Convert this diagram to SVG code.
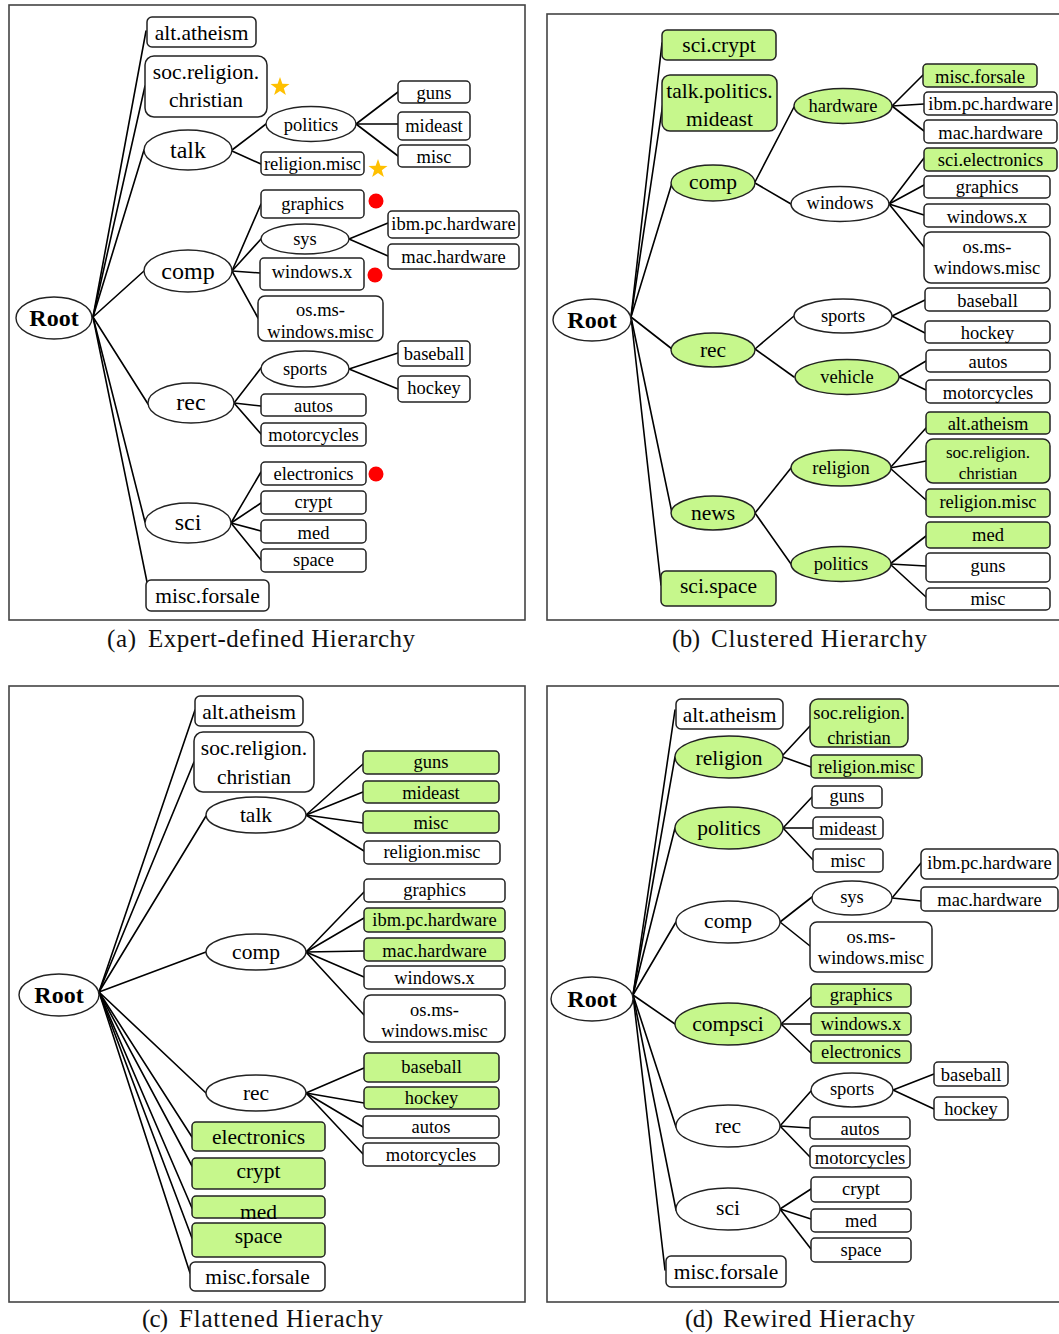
<svg xmlns="http://www.w3.org/2000/svg" width="1059" height="1334" viewBox="0 0 1059 1334">
<style>
  text { font-family: "Liberation Serif", "Times New Roman", serif; fill: #000; text-anchor: middle; }
  .frame { fill: none; stroke: #444; stroke-width: 1.6; }
  .box { fill: #fff; stroke: #222; stroke-width: 1.5; }
  .ell { fill: #fff; stroke: #222; stroke-width: 1.4; }
  .green { fill: #c6f78c; }
  .edges line { stroke: #000; stroke-width: 1.6; stroke-linecap: round; }
  .R { font-size: 24px; font-weight: bold; }
  .E { font-size: 24px; }
  .L { font-size: 21.5px; }
  .S { font-size: 18.5px; }
  .T { font-size: 17px; }
  .cap { font-size: 25px; text-anchor: start; fill: #111; }
  .star { fill: #ffc000; }
  .dot { fill: #f00; }
</style>
<defs>
  <path id="starShape" d="M0,-10 L2.35,-3.24 L9.51,-3.09 L3.8,1.24 L5.88,8.09 L0,4 L-5.88,8.09 L-3.8,1.24 L-9.51,-3.09 L-2.35,-3.24 Z"/>
</defs>
<rect width="1059" height="1334" fill="#fff"/>

<!-- ===================== (a) Expert-defined hierarchy ===================== -->
<g id="panel-a">
  <rect class="frame" x="9" y="5" width="516" height="615"/>
  <g class="edges" id="a-edges">
    <line x1="93" y1="317" x2="146" y2="31"/>
    <line x1="93" y1="317" x2="145" y2="86"/>
    <line x1="93" y1="317" x2="144" y2="150"/>
    <line x1="93" y1="317" x2="144" y2="271"/>
    <line x1="93" y1="317" x2="148" y2="404"/>
    <line x1="93" y1="317" x2="145" y2="522"/>
    <line x1="93" y1="317" x2="147" y2="582"/>
    <line x1="232" y1="150" x2="266" y2="124"/>
    <line x1="232" y1="151" x2="261" y2="164"/>
    <line x1="356" y1="124" x2="398" y2="92"/>
    <line x1="356" y1="124" x2="398" y2="124"/>
    <line x1="356" y1="124" x2="398" y2="156"/>
    <line x1="232" y1="271" x2="261" y2="204"/>
    <line x1="232" y1="271" x2="261" y2="239"/>
    <line x1="232" y1="271" x2="260" y2="273"/>
    <line x1="232" y1="271" x2="258" y2="318"/>
    <line x1="349" y1="239" x2="388" y2="223"/>
    <line x1="349" y1="239" x2="388" y2="256"/>
    <line x1="234" y1="403" x2="261" y2="368"/>
    <line x1="234" y1="403" x2="261" y2="406"/>
    <line x1="234" y1="403" x2="261" y2="434"/>
    <line x1="349" y1="369" x2="398" y2="353"/>
    <line x1="349" y1="369" x2="398" y2="389"/>
    <line x1="231" y1="523" x2="261" y2="472"/>
    <line x1="231" y1="523" x2="261" y2="503"/>
    <line x1="231" y1="523" x2="261" y2="531"/>
    <line x1="231" y1="523" x2="261" y2="560"/>
  </g>
  <g id="a-root"><ellipse class="ell" cx="54" cy="318" rx="38" ry="21"/><text class="R" x="54" y="326">Root</text></g>
  <g id="a-alt-atheism"><rect class="box" x="147" y="17" width="109" height="30" rx="5"/><text class="L" x="201.5" y="40">alt.atheism</text></g>
  <g id="a-soc-religion-christian"><rect class="box" x="145" y="56" width="122" height="61" rx="9"/><text class="L" x="206" y="79">soc.religion.</text><text class="L" x="206" y="107">christian</text><use href="#starShape" class="star" x="280" y="87"/></g>
  <g id="a-talk"><ellipse class="ell" cx="188" cy="150" rx="44" ry="20"/><text class="E" x="188" y="158">talk</text></g>
  <g id="a-politics"><ellipse class="ell" cx="311" cy="124" rx="45" ry="17.5"/><text class="S" x="311" y="131">politics</text></g>
  <g id="a-religion-misc"><rect class="box" x="261" y="152" width="103" height="23" rx="4"/><text class="S" x="312.5" y="170">religion.misc</text><use href="#starShape" class="star" x="378" y="169"/></g>
  <g id="a-guns"><rect class="box" x="398" y="81" width="72" height="22" rx="4"/><text class="S" x="434" y="99">guns</text></g>
  <g id="a-mideast"><rect class="box" x="398" y="112" width="72" height="28" rx="4"/><text class="S" x="434" y="132">mideast</text></g>
  <g id="a-misc"><rect class="box" x="398" y="145" width="72" height="22" rx="4"/><text class="S" x="434" y="163">misc</text></g>
  <g id="a-comp"><ellipse class="ell" cx="188" cy="271" rx="44" ry="21"/><text class="E" x="188" y="279">comp</text></g>
  <g id="a-graphics"><rect class="box" x="261" y="190" width="103" height="28" rx="4"/><text class="S" x="312.5" y="210">graphics</text><circle class="dot" cx="376" cy="201" r="7.5"/></g>
  <g id="a-sys"><ellipse class="ell" cx="305" cy="239" rx="44" ry="15"/><text class="S" x="305" y="245">sys</text></g>
  <g id="a-ibm-pc-hardware"><rect class="box" x="388" y="211" width="131" height="27" rx="4"/><text class="S" x="453.5" y="230">ibm.pc.hardware</text></g>
  <g id="a-mac-hardware"><rect class="box" x="388" y="244" width="131" height="25" rx="4"/><text class="S" x="453.5" y="263">mac.hardware</text></g>
  <g id="a-windows-x"><rect class="box" x="260" y="258" width="104" height="32" rx="4"/><text class="S" x="312" y="278">windows.x</text><circle class="dot" cx="375" cy="275" r="7.5"/></g>
  <g id="a-os-ms-windows-misc"><rect class="box" x="258" y="296" width="125" height="45" rx="7"/><text class="S" x="320.5" y="316">os.ms-</text><text class="S" x="320.5" y="338">windows.misc</text></g>
  <g id="a-rec"><ellipse class="ell" cx="191" cy="403" rx="43" ry="20"/><text class="E" x="191" y="410">rec</text></g>
  <g id="a-sports"><ellipse class="ell" cx="305" cy="369" rx="44" ry="18"/><text class="S" x="305" y="375">sports</text></g>
  <g id="a-baseball"><rect class="box" x="398" y="341" width="72" height="25" rx="4"/><text class="S" x="434" y="360">baseball</text></g>
  <g id="a-hockey"><rect class="box" x="398" y="376" width="72" height="26" rx="4"/><text class="S" x="434" y="394">hockey</text></g>
  <g id="a-autos"><rect class="box" x="261" y="394" width="105" height="22" rx="4"/><text class="S" x="313.5" y="412">autos</text></g>
  <g id="a-motorcycles"><rect class="box" x="261" y="423" width="105" height="23" rx="4"/><text class="S" x="313.5" y="441">motorcycles</text></g>
  <g id="a-sci"><ellipse class="ell" cx="188" cy="523" rx="43" ry="20"/><text class="E" x="188" y="530">sci</text></g>
  <g id="a-electronics"><rect class="box" x="261" y="462" width="105" height="23" rx="4"/><text class="S" x="313.5" y="480">electronics</text><circle class="dot" cx="376" cy="474" r="7.5"/></g>
  <g id="a-crypt"><rect class="box" x="261" y="491" width="105" height="23" rx="4"/><text class="S" x="313.5" y="508">crypt</text></g>
  <g id="a-med"><rect class="box" x="261" y="520" width="105" height="23" rx="4"/><text class="S" x="313.5" y="539">med</text></g>
  <g id="a-space"><rect class="box" x="261" y="549" width="105" height="23" rx="4"/><text class="S" x="313.5" y="566">space</text></g>
  <g id="a-misc-forsale"><rect class="box" x="146" y="580" width="123" height="31" rx="5"/><text class="L" x="207.5" y="603">misc.forsale</text></g>
  <g id="a-caption">
    <text class="cap" x="107" y="647" textLength="29" lengthAdjust="spacing">(a)</text>
    <text class="cap" x="148" y="647" textLength="267" lengthAdjust="spacing">Expert-defined Hierarchy</text>
  </g>
</g>

<!-- ===================== (b) Clustered hierarchy ===================== -->
<g id="panel-b">
  <rect class="frame" x="547" y="14" width="520" height="606"/>
  <g class="edges" id="b-edges">
    <line x1="631" y1="317" x2="662" y2="43"/>
    <line x1="631" y1="317" x2="663" y2="103"/>
    <line x1="631" y1="317" x2="672" y2="183"/>
    <line x1="631" y1="317" x2="672" y2="349"/>
    <line x1="631" y1="317" x2="672" y2="513"/>
    <line x1="631" y1="317" x2="661" y2="585"/>
    <line x1="755" y1="182" x2="794" y2="107"/>
    <line x1="755" y1="183" x2="791" y2="204"/>
    <line x1="892" y1="106" x2="923" y2="75"/>
    <line x1="892" y1="106" x2="924" y2="104"/>
    <line x1="892" y1="106" x2="924" y2="131"/>
    <line x1="889" y1="204" x2="924" y2="158"/>
    <line x1="889" y1="204" x2="924" y2="185"/>
    <line x1="889" y1="204" x2="924" y2="215"/>
    <line x1="889" y1="204" x2="924" y2="247"/>
    <line x1="755" y1="349" x2="794" y2="316"/>
    <line x1="755" y1="349" x2="794" y2="377"/>
    <line x1="892" y1="316" x2="925" y2="300"/>
    <line x1="892" y1="316" x2="925" y2="333"/>
    <line x1="899" y1="377" x2="926" y2="361"/>
    <line x1="899" y1="377" x2="926" y2="390"/>
    <line x1="755" y1="513" x2="791" y2="468"/>
    <line x1="755" y1="513" x2="791" y2="564"/>
    <line x1="890" y1="468" x2="926" y2="428"/>
    <line x1="890" y1="468" x2="926" y2="461"/>
    <line x1="890" y1="468" x2="926" y2="500"/>
    <line x1="890" y1="564" x2="926" y2="536"/>
    <line x1="890" y1="564" x2="926" y2="566"/>
    <line x1="890" y1="564" x2="926" y2="597"/>
  </g>
  <g id="b-root"><ellipse class="ell" cx="592" cy="320" rx="39" ry="21"/><text class="R" x="592" y="328">Root</text></g>
  <g id="b-sci-crypt"><rect class="box green" x="662" y="30" width="114" height="30" rx="5"/><text class="L" x="719" y="52">sci.crypt</text></g>
  <g id="b-talk-politics-mideast"><rect class="box green" x="662" y="75" width="115" height="56" rx="8"/><text class="L" x="719.5" y="98">talk.politics.</text><text class="L" x="719.5" y="126">mideast</text></g>
  <g id="b-comp"><ellipse class="ell green" cx="713" cy="183" rx="42" ry="18"/><text class="L" x="713" y="189">comp</text></g>
  <g id="b-hardware"><ellipse class="ell green" cx="843" cy="106" rx="49" ry="17.5"/><text class="S" x="843" y="112">hardware</text></g>
  <g id="b-windows"><ellipse class="ell" cx="840" cy="204" rx="49" ry="17.5"/><text class="S" x="840" y="209">windows</text></g>
  <g id="b-misc-forsale"><rect class="box green" x="923" y="64" width="114" height="23" rx="4"/><text class="S" x="980" y="83">misc.forsale</text></g>
  <g id="b-ibm-pc-hardware"><rect class="box" x="924" y="92" width="133" height="23" rx="4"/><text class="S" x="990.5" y="110">ibm.pc.hardware</text></g>
  <g id="b-mac-hardware"><rect class="box" x="924" y="120" width="133" height="23" rx="4"/><text class="S" x="990.5" y="139">mac.hardware</text></g>
  <g id="b-sci-electronics"><rect class="box green" x="924" y="148" width="133" height="23" rx="4"/><text class="S" x="990.5" y="166">sci.electronics</text></g>
  <g id="b-graphics"><rect class="box" x="924" y="176" width="126" height="22" rx="4"/><text class="S" x="987" y="193">graphics</text></g>
  <g id="b-windows-x"><rect class="box" x="924" y="204" width="126" height="23" rx="4"/><text class="S" x="987" y="223">windows.x</text></g>
  <g id="b-os-ms-windows-misc"><rect class="box" x="924" y="232" width="126" height="51" rx="7"/><text class="S" x="987" y="253">os.ms-</text><text class="S" x="987" y="274">windows.misc</text></g>
  <g id="b-rec"><ellipse class="ell green" cx="713" cy="350" rx="42" ry="17"/><text class="L" x="713" y="357">rec</text></g>
  <g id="b-sports"><ellipse class="ell" cx="843" cy="316" rx="49" ry="17"/><text class="S" x="843" y="322">sports</text></g>
  <g id="b-vehicle"><ellipse class="ell green" cx="847" cy="377" rx="52" ry="17.5"/><text class="S" x="847" y="383">vehicle</text></g>
  <g id="b-baseball"><rect class="box" x="925" y="288" width="125" height="23" rx="4"/><text class="S" x="987.5" y="307">baseball</text></g>
  <g id="b-hockey"><rect class="box" x="925" y="321" width="125" height="22" rx="4"/><text class="S" x="987.5" y="339">hockey</text></g>
  <g id="b-autos"><rect class="box" x="926" y="350" width="124" height="22" rx="4"/><text class="S" x="988" y="368">autos</text></g>
  <g id="b-motorcycles"><rect class="box" x="926" y="380" width="124" height="23" rx="4"/><text class="S" x="988" y="399">motorcycles</text></g>
  <g id="b-news"><ellipse class="ell green" cx="713" cy="513" rx="42" ry="17"/><text class="L" x="713" y="520">news</text></g>
  <g id="b-religion"><ellipse class="ell green" cx="841" cy="468" rx="50" ry="18"/><text class="S" x="841" y="474">religion</text></g>
  <g id="b-politics"><ellipse class="ell green" cx="841" cy="564" rx="50" ry="17.5"/><text class="S" x="841" y="570">politics</text></g>
  <g id="b-alt-atheism"><rect class="box green" x="926" y="412" width="124" height="22" rx="4"/><text class="S" x="988" y="430">alt.atheism</text></g>
  <g id="b-soc-religion-christian"><rect class="box green" x="926" y="439" width="124" height="44" rx="7"/><text class="T" x="988" y="458">soc.religion.</text><text class="T" x="988" y="479">christian</text></g>
  <g id="b-religion-misc"><rect class="box green" x="926" y="489" width="124" height="28" rx="4"/><text class="S" x="988" y="508">religion.misc</text></g>
  <g id="b-med"><rect class="box green" x="926" y="522" width="124" height="26" rx="4"/><text class="S" x="988" y="541">med</text></g>
  <g id="b-guns"><rect class="box" x="926" y="553" width="124" height="29" rx="4"/><text class="S" x="988" y="572">guns</text></g>
  <g id="b-misc"><rect class="box" x="926" y="588" width="124" height="22" rx="4"/><text class="S" x="988" y="605">misc</text></g>
  <g id="b-sci-space"><rect class="box green" x="661" y="571" width="115" height="35" rx="5"/><text class="L" x="718.5" y="593">sci.space</text></g>
  <g id="b-caption">
    <text class="cap" x="672" y="647" textLength="28" lengthAdjust="spacing">(b)</text>
    <text class="cap" x="711" y="647" textLength="216" lengthAdjust="spacing">Clustered Hierarchy</text>
  </g>
</g>

<!-- ===================== (c) Flattened hierarchy ===================== -->
<g id="panel-c">
  <rect class="frame" x="9" y="686" width="516" height="616"/>
  <g class="edges" id="c-edges">
    <line x1="99" y1="992" x2="195" y2="710"/>
    <line x1="99" y1="992" x2="194" y2="762"/>
    <line x1="99" y1="992" x2="206" y2="816"/>
    <line x1="99" y1="992" x2="206" y2="952"/>
    <line x1="99" y1="992" x2="206" y2="1093"/>
    <line x1="99" y1="992" x2="192" y2="1137"/>
    <line x1="99" y1="992" x2="192" y2="1166"/>
    <line x1="99" y1="992" x2="192" y2="1208"/>
    <line x1="99" y1="992" x2="192" y2="1238"/>
    <line x1="99" y1="992" x2="190" y2="1273"/>
    <line x1="306" y1="815" x2="363" y2="764"/>
    <line x1="306" y1="815" x2="363" y2="792"/>
    <line x1="306" y1="815" x2="363" y2="823"/>
    <line x1="306" y1="815" x2="364" y2="851"/>
    <line x1="306" y1="952" x2="364" y2="892"/>
    <line x1="306" y1="952" x2="364" y2="918"/>
    <line x1="306" y1="952" x2="364" y2="951"/>
    <line x1="306" y1="952" x2="364" y2="977"/>
    <line x1="306" y1="952" x2="364" y2="1015"/>
    <line x1="306" y1="1093" x2="364" y2="1068"/>
    <line x1="306" y1="1093" x2="364" y2="1103"/>
    <line x1="306" y1="1093" x2="363" y2="1127"/>
    <line x1="306" y1="1093" x2="363" y2="1154"/>
  </g>
  <g id="c-root"><ellipse class="ell" cx="59" cy="995" rx="40" ry="21"/><text class="R" x="59" y="1003">Root</text></g>
  <g id="c-alt-atheism"><rect class="box" x="195" y="696" width="108" height="30" rx="5"/><text class="L" x="249" y="719">alt.atheism</text></g>
  <g id="c-soc-religion-christian"><rect class="box" x="194" y="732" width="120" height="60" rx="9"/><text class="L" x="254" y="755">soc.religion.</text><text class="L" x="254" y="784">christian</text></g>
  <g id="c-talk"><ellipse class="ell" cx="256" cy="815" rx="50" ry="18"/><text class="L" x="256" y="822">talk</text></g>
  <g id="c-guns"><rect class="box green" x="363" y="751" width="136" height="23" rx="4"/><text class="S" x="431" y="768">guns</text></g>
  <g id="c-mideast"><rect class="box green" x="363" y="781" width="136" height="22" rx="4"/><text class="S" x="431" y="799">mideast</text></g>
  <g id="c-misc"><rect class="box green" x="363" y="811" width="136" height="22" rx="4"/><text class="S" x="431" y="829">misc</text></g>
  <g id="c-religion-misc"><rect class="box" x="364" y="841" width="136" height="23" rx="4"/><text class="S" x="432" y="858">religion.misc</text></g>
  <g id="c-comp"><ellipse class="ell" cx="256" cy="952" rx="50" ry="18"/><text class="L" x="256" y="959">comp</text></g>
  <g id="c-graphics"><rect class="box" x="364" y="879" width="141" height="23" rx="4"/><text class="S" x="434.5" y="896">graphics</text></g>
  <g id="c-ibm-pc-hardware"><rect class="box green" x="364" y="908" width="141" height="24" rx="4"/><text class="S" x="434.5" y="926">ibm.pc.hardware</text></g>
  <g id="c-mac-hardware"><rect class="box green" x="364" y="938" width="141" height="23" rx="4"/><text class="S" x="434.5" y="957">mac.hardware</text></g>
  <g id="c-windows-x"><rect class="box" x="364" y="966" width="141" height="23" rx="4"/><text class="S" x="434.5" y="984">windows.x</text></g>
  <g id="c-os-ms-windows-misc"><rect class="box" x="364" y="995" width="141" height="47" rx="7"/><text class="S" x="434.5" y="1016">os.ms-</text><text class="S" x="434.5" y="1037">windows.misc</text></g>
  <g id="c-rec"><ellipse class="ell" cx="256" cy="1093" rx="50" ry="18"/><text class="L" x="256" y="1100">rec</text></g>
  <g id="c-baseball"><rect class="box green" x="364" y="1053" width="135" height="29" rx="4"/><text class="S" x="431.5" y="1073">baseball</text></g>
  <g id="c-hockey"><rect class="box green" x="364" y="1087" width="135" height="22" rx="4"/><text class="S" x="431.5" y="1104">hockey</text></g>
  <g id="c-autos"><rect class="box" x="363" y="1116" width="136" height="22" rx="4"/><text class="S" x="431" y="1133">autos</text></g>
  <g id="c-motorcycles"><rect class="box" x="363" y="1143" width="136" height="23" rx="4"/><text class="S" x="431" y="1161">motorcycles</text></g>
  <g id="c-electronics"><rect class="box green" x="192" y="1122" width="133" height="29" rx="4"/><text class="L" x="258.5" y="1144">electronics</text></g>
  <g id="c-crypt"><rect class="box green" x="192" y="1158" width="133" height="31" rx="4"/><text class="L" x="258.5" y="1178">crypt</text></g>
  <g id="c-med"><rect class="box green" x="192" y="1196" width="133" height="22" rx="4"/><text class="L" x="258.5" y="1219">med</text></g>
  <g id="c-space"><rect class="box green" x="192" y="1223" width="133" height="34" rx="4"/><text class="L" x="258.5" y="1243">space</text></g>
  <g id="c-misc-forsale"><rect class="box" x="190" y="1262" width="135" height="29" rx="5"/><text class="L" x="257.5" y="1284">misc.forsale</text></g>
  <g id="c-caption">
    <text class="cap" x="142" y="1327" textLength="26" lengthAdjust="spacing">(c)</text>
    <text class="cap" x="179" y="1327" textLength="204" lengthAdjust="spacing">Flattened Hierachy</text>
  </g>
</g>

<!-- ===================== (d) Rewired hierarchy ===================== -->
<g id="panel-d">
  <rect class="frame" x="547" y="686" width="520" height="616"/>
  <g class="edges" id="d-edges">
    <line x1="633" y1="995" x2="675" y2="710"/>
    <line x1="633" y1="995" x2="675" y2="757"/>
    <line x1="633" y1="995" x2="675" y2="828"/>
    <line x1="633" y1="995" x2="676" y2="922"/>
    <line x1="633" y1="995" x2="675" y2="1024"/>
    <line x1="633" y1="995" x2="676" y2="1127"/>
    <line x1="633" y1="995" x2="676" y2="1210"/>
    <line x1="633" y1="995" x2="665" y2="1270"/>
    <line x1="783" y1="755" x2="810" y2="726"/>
    <line x1="783" y1="757" x2="811" y2="767"/>
    <line x1="783" y1="828" x2="812" y2="797"/>
    <line x1="783" y1="828" x2="813" y2="828"/>
    <line x1="783" y1="828" x2="813" y2="860"/>
    <line x1="780" y1="922" x2="812" y2="897"/>
    <line x1="780" y1="922" x2="810" y2="946"/>
    <line x1="892" y1="898" x2="921" y2="863"/>
    <line x1="892" y1="898" x2="921" y2="901"/>
    <line x1="781" y1="1024" x2="811" y2="997"/>
    <line x1="781" y1="1024" x2="811" y2="1024"/>
    <line x1="781" y1="1024" x2="811" y2="1053"/>
    <line x1="780" y1="1126" x2="811" y2="1091"/>
    <line x1="780" y1="1126" x2="810" y2="1128"/>
    <line x1="780" y1="1126" x2="810" y2="1157"/>
    <line x1="893" y1="1090" x2="934" y2="1074"/>
    <line x1="893" y1="1090" x2="934" y2="1109"/>
    <line x1="780" y1="1209" x2="811" y2="1189"/>
    <line x1="780" y1="1209" x2="811" y2="1219"/>
    <line x1="780" y1="1209" x2="811" y2="1249"/>
  </g>
  <g id="d-root"><ellipse class="ell" cx="592" cy="999" rx="41" ry="22"/><text class="R" x="592" y="1007">Root</text></g>
  <g id="d-alt-atheism"><rect class="box" x="676" y="699" width="107" height="30" rx="5"/><text class="L" x="729.5" y="722">alt.atheism</text></g>
  <g id="d-religion"><ellipse class="ell green" cx="729" cy="757" rx="54" ry="21"/><text class="L" x="729" y="765">religion</text></g>
  <g id="d-soc-religion-christian"><rect class="box green" x="810" y="699" width="98" height="48" rx="8"/><text class="S" x="859" y="719">soc.religion.</text><text class="S" x="859" y="744">christian</text></g>
  <g id="d-religion-misc"><rect class="box green" x="811" y="755" width="111" height="23" rx="4"/><text class="S" x="866.5" y="773">religion.misc</text></g>
  <g id="d-politics"><ellipse class="ell green" cx="729" cy="828" rx="54" ry="21"/><text class="L" x="729" y="835">politics</text></g>
  <g id="d-guns"><rect class="box" x="812" y="786" width="70" height="22" rx="4"/><text class="S" x="847" y="802">guns</text></g>
  <g id="d-mideast"><rect class="box" x="813" y="817" width="70" height="22" rx="4"/><text class="S" x="848" y="835">mideast</text></g>
  <g id="d-misc"><rect class="box" x="813" y="849" width="70" height="23" rx="4"/><text class="S" x="848" y="867">misc</text></g>
  <g id="d-comp"><ellipse class="ell" cx="728" cy="922" rx="52" ry="21"/><text class="L" x="728" y="928">comp</text></g>
  <g id="d-sys"><ellipse class="ell" cx="852" cy="898" rx="40" ry="17"/><text class="S" x="852" y="903">sys</text></g>
  <g id="d-ibm-pc-hardware"><rect class="box" x="921" y="849" width="137" height="30" rx="5"/><text class="S" x="989.5" y="869">ibm.pc.hardware</text></g>
  <g id="d-mac-hardware"><rect class="box" x="921" y="887" width="137" height="24" rx="4"/><text class="S" x="989.5" y="906">mac.hardware</text></g>
  <g id="d-os-ms-windows-misc"><rect class="box" x="810" y="922" width="122" height="50" rx="7"/><text class="S" x="871" y="943">os.ms-</text><text class="S" x="871" y="964">windows.misc</text></g>
  <g id="d-compsci"><ellipse class="ell green" cx="728" cy="1024" rx="53" ry="21"/><text class="L" x="728" y="1031">compsci</text></g>
  <g id="d-graphics"><rect class="box green" x="811" y="984" width="100" height="23" rx="4"/><text class="S" x="861" y="1001">graphics</text></g>
  <g id="d-windows-x"><rect class="box green" x="811" y="1013" width="100" height="22" rx="4"/><text class="S" x="861" y="1030">windows.x</text></g>
  <g id="d-electronics"><rect class="box green" x="811" y="1041" width="100" height="22" rx="4"/><text class="S" x="861" y="1058">electronics</text></g>
  <g id="d-rec"><ellipse class="ell" cx="728" cy="1126" rx="52" ry="21"/><text class="L" x="728" y="1133">rec</text></g>
  <g id="d-sports"><ellipse class="ell" cx="852" cy="1090" rx="41" ry="17"/><text class="S" x="852" y="1095">sports</text></g>
  <g id="d-baseball"><rect class="box" x="934" y="1062" width="74" height="24" rx="4"/><text class="S" x="971" y="1081">baseball</text></g>
  <g id="d-hockey"><rect class="box" x="934" y="1097" width="74" height="23" rx="4"/><text class="S" x="971" y="1115">hockey</text></g>
  <g id="d-autos"><rect class="box" x="810" y="1117" width="100" height="22" rx="4"/><text class="S" x="860" y="1135">autos</text></g>
  <g id="d-motorcycles"><rect class="box" x="810" y="1146" width="100" height="22" rx="4"/><text class="S" x="860" y="1164">motorcycles</text></g>
  <g id="d-sci"><ellipse class="ell" cx="728" cy="1209" rx="52" ry="21"/><text class="L" x="728" y="1215">sci</text></g>
  <g id="d-crypt"><rect class="box" x="811" y="1177" width="100" height="25" rx="4"/><text class="S" x="861" y="1195">crypt</text></g>
  <g id="d-med"><rect class="box" x="811" y="1209" width="100" height="23" rx="4"/><text class="S" x="861" y="1227">med</text></g>
  <g id="d-space"><rect class="box" x="811" y="1238" width="100" height="24" rx="4"/><text class="S" x="861" y="1256">space</text></g>
  <g id="d-misc-forsale"><rect class="box" x="666" y="1256" width="120" height="31" rx="5"/><text class="L" x="726" y="1279">misc.forsale</text></g>
  <g id="d-caption">
    <text class="cap" x="685" y="1327" textLength="28" lengthAdjust="spacing">(d)</text>
    <text class="cap" x="723" y="1327" textLength="192" lengthAdjust="spacing">Rewired Hierachy</text>
  </g>
</g>
</svg>
